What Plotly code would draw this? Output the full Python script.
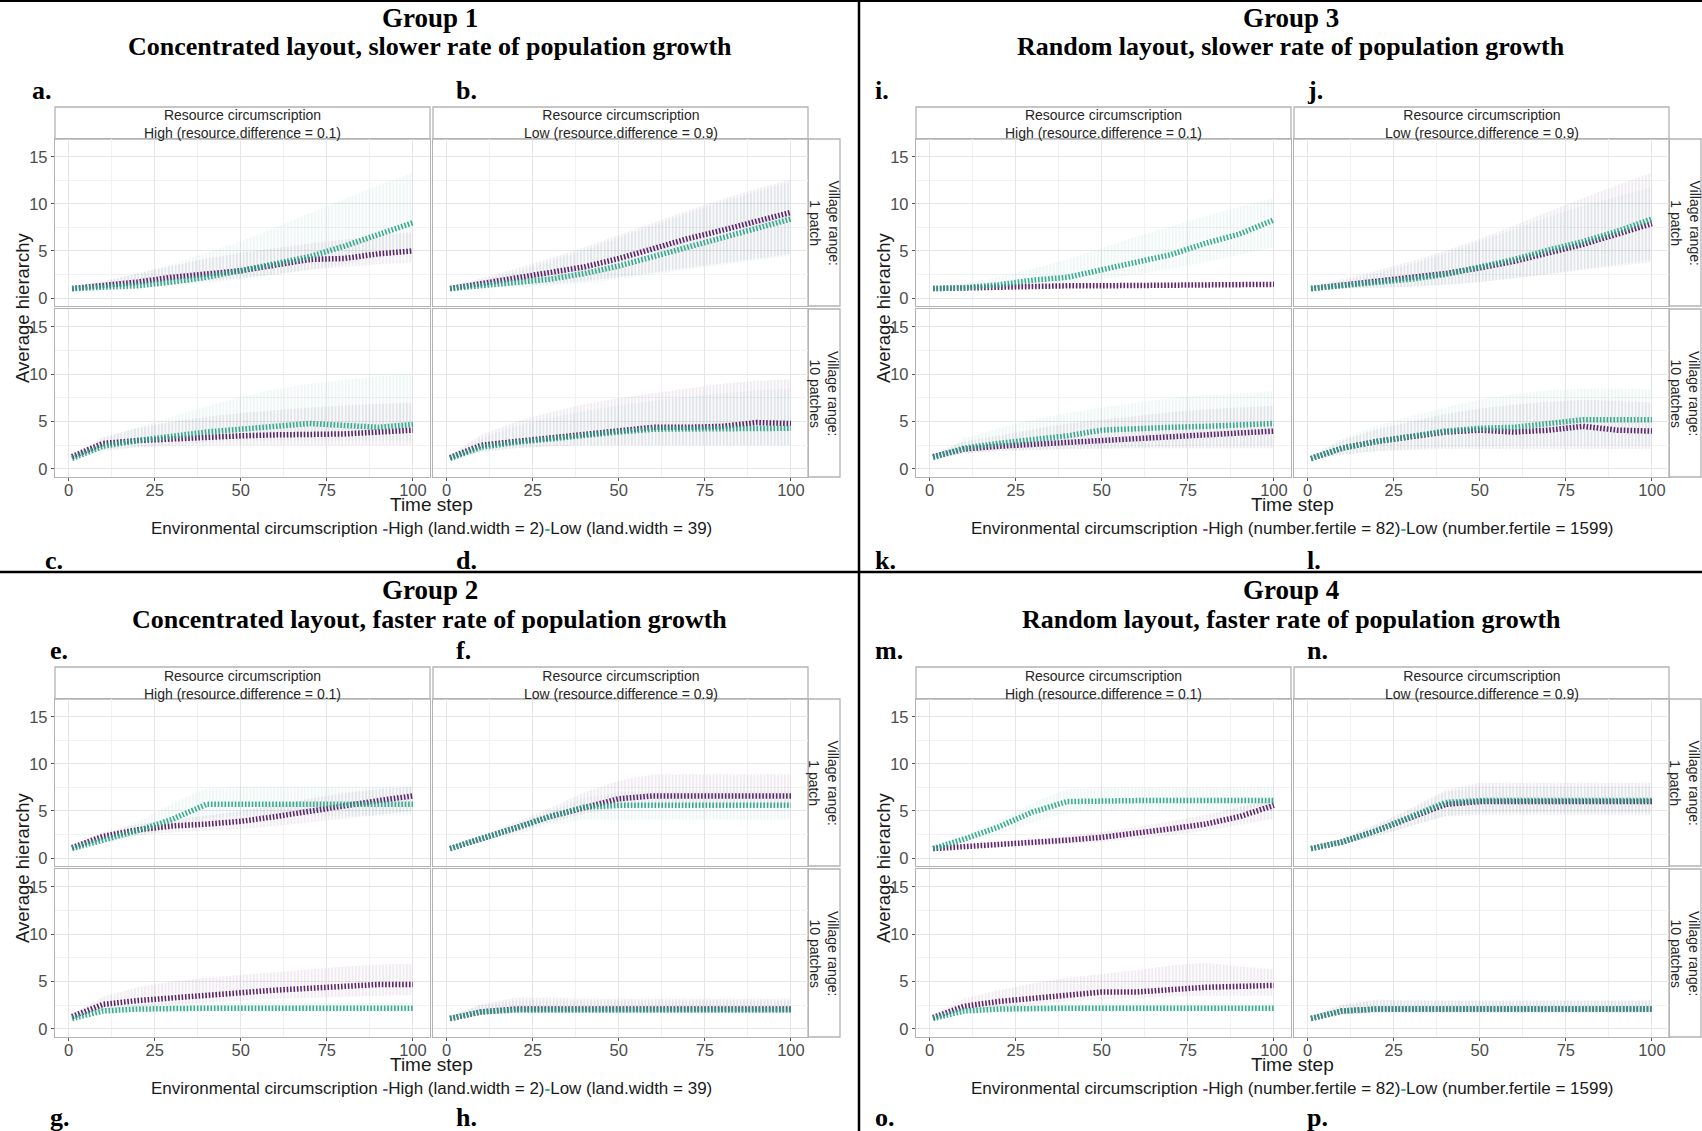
import plotly.graph_objects as go

W, H = 1702, 1131

# ---------------- data ----------------
time_steps = [1, 10, 20, 30, 40, 50, 60, 70, 80, 90, 100]
x_ticks = [0, 25, 50, 75, 100]
y_ticks = [0, 5, 10, 15]

# Group 1 -- panel a (High resource circ., 1 patch)
a_high_med = [1.0, 1.3, 1.7, 2.2, 2.6, 2.9, 3.5, 4.1, 4.2, 4.7, 5.0]
a_high_min = [1.0, 1.1, 1.3, 1.5, 1.8, 2.1, 2.5, 3.0, 3.3, 3.6, 3.8]
a_high_max = [1.2, 1.8, 2.6, 3.4, 4.2, 4.8, 5.3, 5.8, 6.2, 6.7, 7.0]
a_low_med = [1.0, 1.1, 1.3, 1.7, 2.2, 2.9, 3.7, 4.4, 5.5, 6.8, 8.0]
a_low_min = [1.0, 1.0, 1.1, 1.3, 1.6, 2.0, 2.5, 3.0, 3.6, 4.3, 5.0]
a_low_max = [1.2, 1.7, 2.6, 3.6, 4.8, 6.0, 7.5, 9.0, 10.5, 12.0, 13.3]
# panel b (Low resource circ., 1 patch)
b_high_med = [1.0, 1.5, 2.1, 2.7, 3.3, 4.2, 5.3, 6.3, 7.2, 8.2, 9.1]
b_high_min = [1.0, 1.1, 1.3, 1.5, 1.8, 2.2, 2.7, 3.2, 3.7, 4.2, 4.7]
b_high_max = [1.3, 2.1, 3.1, 4.2, 5.4, 6.7, 8.0, 9.3, 10.5, 11.6, 12.6]
b_low_med = [1.0, 1.3, 1.7, 2.0, 2.6, 3.4, 4.4, 5.4, 6.5, 7.5, 8.4]
b_low_min = [1.0, 1.0, 1.1, 1.3, 1.6, 2.0, 2.5, 3.0, 3.5, 4.0, 4.5]
b_low_max = [1.2, 1.8, 2.8, 3.9, 5.1, 6.4, 7.7, 9.0, 10.2, 11.3, 12.3]
# panel c (High resource circ., 10 patches)
c_high_med = [1.3, 2.7, 3.0, 3.2, 3.4, 3.5, 3.6, 3.6, 3.7, 3.9, 4.1]
c_high_min = [1.2, 2.0, 2.3, 2.4, 2.5, 2.5, 2.5, 2.5, 2.5, 2.5, 2.5]
c_high_max = [1.5, 3.4, 4.3, 5.0, 5.5, 5.9, 6.2, 6.5, 6.7, 6.9, 7.0]
c_low_med = [1.1, 2.4, 3.0, 3.5, 3.9, 4.2, 4.5, 4.8, 4.6, 4.4, 4.7]
c_low_min = [1.0, 1.8, 2.3, 2.6, 2.8, 3.0, 3.0, 3.0, 3.0, 3.0, 3.0]
c_low_max = [1.4, 3.2, 4.4, 5.5, 6.6, 7.6, 8.4, 9.0, 9.4, 9.8, 10.0]
# panel d (Low resource circ., 10 patches)
d_high_med = [1.2, 2.5, 2.9, 3.3, 3.7, 4.0, 4.4, 4.4, 4.5, 4.9, 4.8]
d_high_min = [1.0, 1.8, 2.2, 2.4, 2.5, 2.5, 2.5, 2.5, 2.5, 2.5, 2.5]
d_high_max = [1.5, 3.6, 5.0, 6.0, 6.8, 7.5, 8.0, 8.5, 9.0, 9.3, 9.5]
d_low_med = [1.1, 2.3, 2.8, 3.2, 3.6, 3.9, 4.2, 4.2, 4.3, 4.2, 4.3]
d_low_min = [1.0, 1.8, 2.2, 2.4, 2.5, 2.5, 2.5, 2.5, 2.5, 2.5, 2.5]
d_low_max = [1.4, 3.3, 4.5, 5.4, 6.1, 6.7, 7.2, 7.6, 8.0, 8.3, 8.5]

# Group 2 -- panels e, f, g, h
e_high_med = [1.1, 2.3, 3.0, 3.4, 3.6, 3.9, 4.4, 5.0, 5.5, 6.1, 6.6]
e_high_min = [1.0, 1.8, 2.4, 2.7, 2.9, 3.1, 3.4, 3.8, 4.2, 4.6, 5.0]
e_high_max = [1.3, 2.8, 3.6, 4.1, 4.5, 5.0, 5.6, 6.3, 6.9, 7.3, 7.6]
e_low_med = [1.0, 1.9, 2.9, 4.1, 5.7, 5.7, 5.7, 5.7, 5.7, 5.7, 5.7]
e_low_min = [1.0, 1.5, 2.3, 3.2, 4.2, 4.5, 4.5, 4.5, 4.5, 4.5, 4.5]
e_low_max = [1.2, 2.4, 3.8, 5.8, 7.4, 7.6, 7.6, 7.6, 7.6, 7.6, 7.6]
f_high_med = [1.0, 2.0, 3.2, 4.4, 5.4, 6.3, 6.6, 6.6, 6.6, 6.6, 6.6]
f_high_min = [1.0, 1.7, 2.7, 3.8, 4.7, 5.3, 5.5, 5.5, 5.5, 5.5, 5.5]
f_high_max = [1.2, 2.4, 3.8, 5.3, 7.0, 8.2, 8.9, 8.9, 8.9, 8.9, 8.9]
f_low_med = [1.0, 2.0, 3.2, 4.4, 5.4, 5.6, 5.6, 5.6, 5.6, 5.6, 5.6]
f_low_min = [1.0, 1.6, 2.5, 3.5, 4.1, 4.1, 4.1, 4.1, 4.1, 4.1, 4.1]
f_low_max = [1.2, 2.3, 3.6, 5.0, 6.4, 7.0, 7.2, 7.2, 7.2, 7.2, 7.2]
g_high_med = [1.3, 2.6, 3.0, 3.3, 3.6, 3.9, 4.1, 4.3, 4.5, 4.7, 4.7]
g_high_min = [1.1, 2.0, 2.4, 2.6, 2.8, 3.0, 3.2, 3.3, 3.4, 3.5, 3.6]
g_high_max = [1.6, 3.4, 4.4, 5.0, 5.4, 5.7, 6.0, 6.3, 6.6, 6.8, 6.9]
g_low_med = [1.1, 1.9, 2.1, 2.2, 2.2, 2.2, 2.2, 2.2, 2.2, 2.2, 2.2]
g_low_min = [1.0, 1.6, 1.8, 1.8, 1.8, 1.8, 1.8, 1.8, 1.8, 1.8, 1.8]
g_low_max = [1.3, 2.3, 2.6, 2.8, 2.8, 2.8, 2.8, 2.8, 2.8, 2.8, 2.8]
h_high_med = [1.1, 1.8, 2.1, 2.1, 2.1, 2.1, 2.1, 2.1, 2.1, 2.1, 2.1]
h_high_min = [1.0, 1.5, 1.7, 1.7, 1.7, 1.7, 1.7, 1.7, 1.7, 1.7, 1.7]
h_high_max = [1.4, 2.6, 3.3, 3.3, 3.2, 3.2, 3.2, 3.2, 3.2, 3.2, 3.2]
h_low_med = [1.1, 1.8, 2.0, 2.0, 2.0, 2.0, 2.0, 2.0, 2.0, 2.0, 2.0]
h_low_min = [1.0, 1.5, 1.7, 1.7, 1.7, 1.7, 1.7, 1.7, 1.7, 1.7, 1.7]
h_low_max = [1.4, 2.5, 3.0, 3.0, 3.0, 3.0, 3.0, 3.0, 3.0, 3.0, 3.0]

# Group 3 -- panels i, j, k, l
i_high_med = [1.0, 1.1, 1.2, 1.25, 1.3, 1.3, 1.35, 1.4, 1.4, 1.45, 1.45]
i_high_min = [1.0, 1.0, 1.05, 1.1, 1.1, 1.1, 1.15, 1.15, 1.2, 1.2, 1.2]
i_high_max = [1.1, 1.2, 1.35, 1.45, 1.5, 1.55, 1.6, 1.65, 1.7, 1.7, 1.75]
i_low_med = [1.0, 1.1, 1.4, 1.9, 2.2, 3.0, 3.8, 4.6, 5.8, 6.8, 8.3]
i_low_min = [1.0, 1.0, 1.1, 1.3, 1.6, 2.0, 2.5, 3.1, 3.8, 4.6, 5.4]
i_low_max = [1.2, 1.5, 2.2, 3.1, 4.1, 5.3, 6.5, 7.6, 8.7, 9.7, 10.6]
j_high_med = [1.0, 1.4, 1.8, 2.2, 2.6, 3.2, 3.9, 4.8, 5.7, 6.8, 7.9]
j_high_min = [1.0, 1.0, 1.1, 1.2, 1.4, 1.7, 2.1, 2.5, 3.0, 3.4, 3.8]
j_high_max = [1.3, 2.0, 2.9, 3.9, 5.0, 6.3, 7.7, 9.2, 10.6, 12.0, 13.3]
j_low_med = [1.0, 1.3, 1.6, 2.0, 2.5, 3.3, 4.1, 5.1, 6.0, 7.1, 8.4]
j_low_min = [1.0, 1.0, 1.1, 1.2, 1.4, 1.7, 2.1, 2.6, 3.1, 3.6, 4.1]
j_low_max = [1.2, 1.8, 2.6, 3.6, 4.7, 6.0, 7.3, 8.6, 9.8, 10.8, 11.8]
k_high_med = [1.3, 2.1, 2.4, 2.6, 2.8, 3.1, 3.3, 3.5, 3.7, 3.9, 4.0]
k_high_min = [1.0, 1.6, 1.9, 2.0, 2.1, 2.1, 2.2, 2.2, 2.2, 2.2, 2.2]
k_high_max = [1.5, 2.9, 3.5, 4.2, 4.8, 5.2, 5.6, 6.0, 6.3, 6.5, 6.7]
k_low_med = [1.2, 2.2, 2.7, 3.1, 3.5, 4.1, 4.3, 4.4, 4.5, 4.6, 4.8]
k_low_min = [1.0, 1.6, 1.9, 2.0, 2.1, 2.2, 2.3, 2.4, 2.5, 2.5, 2.5]
k_low_max = [1.5, 3.2, 4.3, 5.2, 5.9, 6.5, 7.0, 7.5, 7.8, 8.0, 8.2]
l_high_med = [1.1, 2.2, 2.9, 3.4, 3.9, 4.1, 3.9, 4.1, 4.5, 4.1, 4.0]
l_high_min = [1.0, 1.5, 1.9, 2.0, 2.1, 2.1, 2.1, 2.1, 2.1, 2.1, 2.1]
l_high_max = [1.4, 3.0, 4.2, 5.0, 5.8, 6.4, 6.8, 7.1, 7.3, 7.2, 7.0]
l_low_med = [1.1, 2.2, 2.9, 3.5, 4.0, 4.3, 4.4, 4.8, 5.2, 5.2, 5.2]
l_low_min = [1.0, 1.5, 1.9, 2.1, 2.3, 2.4, 2.5, 2.5, 2.5, 2.5, 2.5]
l_low_max = [1.4, 3.2, 4.6, 5.6, 6.5, 7.3, 7.9, 8.3, 8.5, 8.5, 8.4]

# Group 4 -- panels m, n, o, p
m_high_med = [1.0, 1.2, 1.4, 1.6, 1.9, 2.2, 2.6, 3.1, 3.6, 4.4, 5.6]
m_high_min = [1.0, 1.1, 1.2, 1.3, 1.5, 1.7, 2.0, 2.4, 2.9, 3.5, 4.2]
m_high_max = [1.2, 1.4, 1.7, 2.0, 2.4, 2.8, 3.3, 3.9, 4.6, 5.4, 6.4]
m_low_med = [1.0, 2.0, 3.3, 4.9, 6.0, 6.1, 6.1, 6.1, 6.1, 6.1, 6.1]
m_low_min = [1.0, 1.6, 2.6, 3.8, 4.8, 5.0, 5.0, 5.0, 5.0, 5.0, 5.0]
m_low_max = [1.2, 2.4, 4.0, 5.9, 7.3, 7.5, 7.5, 7.5, 7.5, 7.5, 7.5]
n_high_med = [1.0, 1.7, 2.9, 4.3, 5.7, 6.0, 6.0, 6.0, 6.0, 6.0, 6.0]
n_high_min = [1.0, 1.4, 2.3, 3.4, 4.4, 4.6, 4.6, 4.6, 4.6, 4.6, 4.6]
n_high_max = [1.2, 2.1, 3.6, 5.3, 7.2, 8.0, 8.0, 8.0, 8.0, 8.0, 8.0]
n_low_med = [1.0, 1.7, 2.9, 4.4, 5.9, 6.1, 6.1, 6.1, 6.1, 6.1, 6.1]
n_low_min = [1.0, 1.4, 2.3, 3.4, 4.5, 4.8, 4.8, 4.8, 4.8, 4.8, 4.8]
n_low_max = [1.2, 2.1, 3.5, 5.1, 7.0, 7.6, 7.6, 7.6, 7.6, 7.6, 7.6]
o_high_med = [1.2, 2.4, 2.9, 3.2, 3.6, 3.9, 3.9, 4.2, 4.4, 4.5, 4.6]
o_high_min = [1.1, 1.9, 2.3, 2.6, 2.9, 3.1, 3.3, 3.4, 3.5, 3.5, 3.5]
o_high_max = [1.5, 3.2, 4.1, 4.8, 5.4, 5.8, 6.2, 6.7, 7.0, 6.6, 6.3]
o_low_med = [1.1, 1.9, 2.1, 2.2, 2.2, 2.2, 2.2, 2.2, 2.2, 2.2, 2.2]
o_low_min = [1.0, 1.6, 1.8, 1.8, 1.8, 1.8, 1.8, 1.8, 1.8, 1.8, 1.8]
o_low_max = [1.3, 2.3, 2.6, 2.7, 2.7, 2.7, 2.7, 2.7, 2.7, 2.7, 2.7]
p_high_med = [1.1, 1.9, 2.1, 2.1, 2.1, 2.1, 2.1, 2.1, 2.1, 2.1, 2.1]
p_high_min = [1.0, 1.5, 1.7, 1.7, 1.7, 1.7, 1.7, 1.7, 1.7, 1.7, 1.7]
p_high_max = [1.4, 2.6, 3.1, 3.0, 3.0, 3.0, 3.0, 3.0, 3.0, 3.0, 3.0]
p_low_med = [1.1, 1.9, 2.1, 2.1, 2.1, 2.1, 2.1, 2.1, 2.1, 2.1, 2.1]
p_low_min = [1.0, 1.5, 1.7, 1.7, 1.7, 1.7, 1.7, 1.7, 1.7, 1.7, 1.7]
p_low_max = [1.4, 2.5, 3.0, 3.0, 3.0, 3.0, 3.0, 3.0, 3.0, 3.0, 3.0]

panel_data = {
    "a": (a_high_med, a_high_min, a_high_max, a_low_med, a_low_min, a_low_max),
    "b": (b_high_med, b_high_min, b_high_max, b_low_med, b_low_min, b_low_max),
    "c": (c_high_med, c_high_min, c_high_max, c_low_med, c_low_min, c_low_max),
    "d": (d_high_med, d_high_min, d_high_max, d_low_med, d_low_min, d_low_max),
    "e": (e_high_med, e_high_min, e_high_max, e_low_med, e_low_min, e_low_max),
    "f": (f_high_med, f_high_min, f_high_max, f_low_med, f_low_min, f_low_max),
    "g": (g_high_med, g_high_min, g_high_max, g_low_med, g_low_min, g_low_max),
    "h": (h_high_med, h_high_min, h_high_max, h_low_med, h_low_min, h_low_max),
    "i": (i_high_med, i_high_min, i_high_max, i_low_med, i_low_min, i_low_max),
    "j": (j_high_med, j_high_min, j_high_max, j_low_med, j_low_min, j_low_max),
    "k": (k_high_med, k_high_min, k_high_max, k_low_med, k_low_min, k_low_max),
    "l": (l_high_med, l_high_min, l_high_max, l_low_med, l_low_min, l_low_max),
    "m": (m_high_med, m_high_min, m_high_max, m_low_med, m_low_min, m_low_max),
    "n": (n_high_med, n_high_min, n_high_max, n_low_med, n_low_min, n_low_max),
    "o": (o_high_med, o_high_min, o_high_max, o_low_med, o_low_min, o_low_max),
    "p": (p_high_med, p_high_min, p_high_max, p_low_med, p_low_min, p_low_max),
}

group_titles = ["Group 1", "Group 2", "Group 3", "Group 4"]
group_subtitles = [
    "Concentrated layout, slower rate of population growth",
    "Concentrated layout, faster rate of population growth",
    "Random layout, slower rate of population growth",
    "Random layout, faster rate of population growth",
]
env_high_labels = ["High (land.width = 2)", "High (land.width = 2)",
                   "High (number.fertile = 82)", "High (number.fertile = 82)"]
env_low_labels = ["Low (land.width = 39)", "Low (land.width = 39)",
                  "Low (number.fertile = 1599)", "Low (number.fertile = 1599)"]
col_strips = ["Resource circumscription<br>High (resource.difference = 0.1)",
              "Resource circumscription<br>Low (resource.difference = 0.9)"]
row_strips = ["Village range:<br>1 patch", "Village range:<br>10 patches"]
group_letters = ["abcd", "efgh", "ijkl", "mnop"]

# ---------------- styling / layout ----------------
PURPLE = "68,1,84"
TEAL = "35,163,130"
SANS = "Liberation Sans, Arial, sans-serif"
SERIF = "Liberation Serif, Times New Roman, serif"

group_offsets = [(0, 0), (0, 560), (861, 0), (861, 560)]
title_y = [18, 590, 18, 590]
sub_y = [47, 619, 47, 619]
letter_top_y = [90, 650, 90, 650]
letter_bot_y = [560, 1117, 560, 1117]
letter_x = [(30, 454, 43, 454), (48, 454, 48, 454),
            (873, 1305, 873, 1305), (873, 1305, 873, 1305)]

COLX = [(55, 430), (433, 808)]
ROWY = [(139, 306), (309, 477)]
STRIP_TOP = 107
STRIP_RIGHT = (808, 840)


def px(x):
    return x / W


def py(y):
    return 1 - y / H


fig = go.Figure()
layout = {}
shapes = []
annots = []


def ann(text, x, y, size, color="#1a1a1a", family=SANS, angle=0, xanchor="center", **kw):
    annots.append(dict(text=text, x=px(x), y=py(y), xref="paper", yref="paper",
                       showarrow=False, xanchor=xanchor, yanchor="middle",
                       textangle=angle, font=dict(size=size, color=color, family=family), **kw))


ax_i = 0
for g in range(4):
    ox, oy = group_offsets[g]
    letters = group_letters[g]
    for pi in range(4):
        r, c = divmod(pi, 2)
        ax_i += 1
        sfx = "" if ax_i == 1 else str(ax_i)
        x0, x1 = COLX[c][0] + ox, COLX[c][1] + ox
        y0, y1 = ROWY[r][0] + oy, ROWY[r][1] + oy
        bottom = (r == 1)
        left = (c == 0)
        tickfont = dict(family=SANS, size=16.5, color="#4d4d4d")
        layout["xaxis" + sfx] = dict(
            domain=[px(x0), px(x1)], range=[-3.95, 104.95], anchor="y" + sfx,
            tickvals=x_ticks, showticklabels=bottom, ticks="outside" if bottom else "",
            ticklen=3, tickcolor="#555", tickfont=tickfont, ticklabelstandoff=-5,
            showgrid=True, gridcolor="#e6e6e6", gridwidth=0.8,
            minor=dict(tickvals=[12.5, 37.5, 62.5, 87.5], showgrid=True,
                       gridcolor="#f2f2f2", gridwidth=0.6),
            showline=True, mirror=True, linecolor="#b3b3b3", linewidth=1.3,
            zeroline=False, fixedrange=True)
        layout["yaxis" + sfx] = dict(
            domain=[py(y1), py(y0)], range=[-0.85, 16.9], anchor="x" + sfx,
            tickvals=y_ticks, showticklabels=left, ticks="outside" if left else "",
            ticklen=3, tickcolor="#555", tickfont=tickfont,
            showgrid=True, gridcolor="#e6e6e6", gridwidth=0.8,
            minor=dict(tickvals=[2.5, 7.5, 12.5], showgrid=True,
                       gridcolor="#f2f2f2", gridwidth=0.6),
            showline=True, mirror=True, linecolor="#b3b3b3", linewidth=1.3,
            zeroline=False, fixedrange=True)

        hm, hlo, hhi, lm, llo, lhi = panel_data[letters[pi]]
        xa, ya = "x" + sfx, "y" + sfx
        for col, lo, hi in ((PURPLE, hlo, hhi), (TEAL, llo, lhi)):
            fig.add_trace(go.Scatter(x=time_steps, y=lo, xaxis=xa, yaxis=ya, mode="lines",
                                     line=dict(width=0, color="rgba(0,0,0,0)"),
                                     showlegend=False, hoverinfo="skip"))
            fig.add_trace(go.Scatter(x=time_steps, y=hi, xaxis=xa, yaxis=ya, mode="lines",
                                     line=dict(width=0, color="rgba(0,0,0,0)"),
                                     fill="tonexty", fillcolor=f"rgba({col},0.03)",
                                     fillpattern=dict(shape="|", size=3.4, solidity=0.35,
                                                      fgcolor=f"rgba({col},0.09)",
                                                      bgcolor=f"rgba({col},0.015)",
                                                      fillmode="replace"),
                                     showlegend=False, hoverinfo="skip"))
        for col, med, op in ((PURPLE, hm, 0.85), (TEAL, lm, 0.9)):
            fig.add_trace(go.Scatter(x=time_steps, y=med, xaxis=xa, yaxis=ya, mode="lines",
                                     line=dict(width=5.5, color=f"rgba({col},{op})",
                                               dash="1.6px,1.8px"),
                                     showlegend=False))

    # strips
    for c in range(2):
        x0, x1 = COLX[c][0] + ox, COLX[c][1] + ox
        shapes.append(dict(type="rect", xref="paper", yref="paper",
                           x0=px(x0), x1=px(x1), y0=py(139 + oy), y1=py(STRIP_TOP + oy),
                           fillcolor="white", line=dict(color="#b3b3b3", width=1.3), layer="below"))
        ann(col_strips[c], (x0 + x1) / 2, 124.5 + oy, 14, color="#262626")
    for r in range(2):
        y0, y1 = ROWY[r][0] + oy, ROWY[r][1] + oy
        shapes.append(dict(type="rect", xref="paper", yref="paper",
                           x0=px(STRIP_RIGHT[0] + ox), x1=px(STRIP_RIGHT[1] + ox),
                           y0=py(y1), y1=py(y0),
                           fillcolor="white", line=dict(color="#b3b3b3", width=1.3), layer="below"))
        ann(row_strips[r], 824 + ox, (y0 + y1) / 2, 14, color="#262626", angle=90)

    # titles
    ann("<b>" + group_titles[g] + "</b>", 430 + ox, title_y[g], 27, color="black", family=SERIF)
    ann("<b>" + group_subtitles[g] + "</b>", 430 + ox, sub_y[g], 26, color="black", family=SERIF)
    # panel letters
    lx = letter_x[g]
    for k, (lxx, lyy) in enumerate(((lx[0], letter_top_y[g]), (lx[1], letter_top_y[g]),
                                    (lx[2], letter_bot_y[g]), (lx[3], letter_bot_y[g]))):
        ann("<b>" + letters[k] + ".</b>", lxx, lyy, 26, color="black", family=SERIF, xanchor="left")
    # axis titles
    ann("Average hierarchy", 22 + ox, 308 + oy, 18.5, color="#1a1a1a", angle=-90)
    ann("Time step", 431 + ox, 504 + oy, 19, color="#1a1a1a")
    # legend
    legend_txt = ("Environmental circumscription "
                  f"<span style='color:rgb(125,80,145)'><b>-</b></span>{env_high_labels[g]}"
                  f"<span style='color:rgb(60,185,150)'><b>-</b></span>{env_low_labels[g]}")
    ann(legend_txt, 431 + ox, 528 + oy, 17, color="#1a1a1a")

# dividers
shapes.append(dict(type="line", xref="paper", yref="paper", x0=0, x1=1, y0=py(0.8), y1=py(0.8),
                   line=dict(color="black", width=2.5)))
shapes.append(dict(type="line", xref="paper", yref="paper", x0=0, x1=1, y0=py(572), y1=py(572),
                   line=dict(color="black", width=2.5)))
shapes.append(dict(type="line", xref="paper", yref="paper", x0=px(859), x1=px(859), y0=0, y1=1,
                   line=dict(color="black", width=2.5)))

fig.update_layout(width=W, height=H, margin=dict(l=0, r=0, t=0, b=0),
                  paper_bgcolor="white", plot_bgcolor="white", showlegend=False,
                  shapes=shapes, annotations=annots, **layout)

fig.write_html("out.html")
